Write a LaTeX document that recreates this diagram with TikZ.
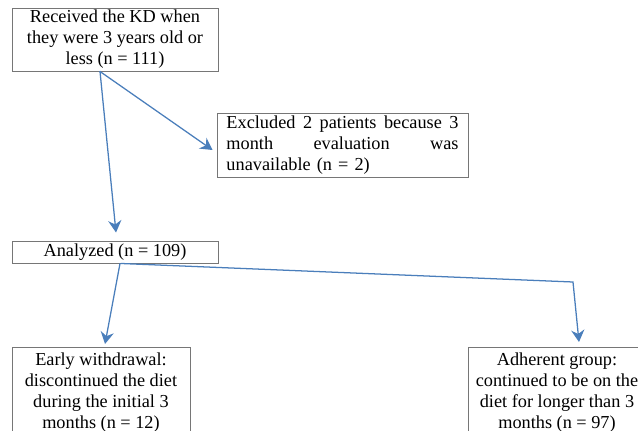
\documentclass[tikz,border=0pt]{standalone}
\usepackage{fontspec}
\setmainfont{Liberation Serif}
\usetikzlibrary{arrows.meta, positioning}
\definecolor{flowBlue}{RGB}{74, 126, 187}
\definecolor{boxGray}{RGB}{118, 118, 118}
\def\px{0.025cm}

\begin{document}
\begin{tikzpicture}[x=\px, y=-\px, style={line cap = round},
  font=\fontsize{13}{15}\selectfont,
  box/.style={draw=boxGray, line width=0.7pt, align=center, inner sep=0pt},
  flow/.style={flowBlue, line width=0.9pt, -{Stealth[length=0.3cm, width=0.33cm, inset=0.1cm]}}]
  \useasboundingbox (0, 0) rectangle (638, 431);
  % boxes
  \node[box, minimum width=206*\px, minimum height=63*\px] (recv) at (115, 39.5) {Received the KD when\\they were 3 years old or\\less (n = 111)};
  \node[box, minimum width=251*\px, minimum height=64*\px, text width=5.8cm, align=left] (excl) at (342.5, 145) {Excluded\hfill 2\hfill patients\hfill because\hfill 3\\month\hfill evaluation\hfill was\\unavailable (n = 2)};
  \node[box, minimum width=206*\px, minimum height=22*\px] (anal) at (115, 252) {Analyzed (n = 109)};
  \node[box, minimum width=178*\px, minimum height=90*\px, anchor=north] (early) at (101, 347) {Early withdrawal:\\discontinued the diet\\during the initial 3\\months (n = 12)};
  \node[box, minimum width=178*\px, minimum height=90*\px, anchor=north] (adh) at (557, 347) {Adherent group:\\continued to be on the\\diet for longer than 3\\months (n = 97)};
  \coordinate (bend) at (573, 282);
  % connectors
  \draw[flow] ([xshift=-15*\px]recv.south) -- ([xshift=1*\px, yshift=8*\px]anal.north);
  \draw[flow] ([xshift=-15*\px]recv.south) -- ([xshift=-4*\px, yshift=-5*\px]excl.west);
  \draw[flow] ([xshift=5*\px]anal.south) -- ([xshift=4*\px, yshift=3*\px]early.north);
  \draw[flow] ([xshift=6*\px]anal.south) -- (bend) -- ([xshift=22*\px, yshift=5*\px]adh.north);
\end{tikzpicture}
\end{document}
